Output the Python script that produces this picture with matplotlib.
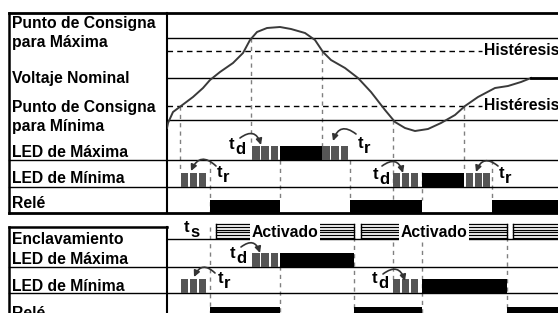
import matplotlib
matplotlib.use("Agg")
import matplotlib.pyplot as plt
from matplotlib.patches import FancyArrowPatch

plt.rcParams['font.family'] = ['Liberation Sans', 'DejaVu Sans']

# voltage curve: time (panel units) and volts
curve_t = [0, 1, 6, 14, 26, 36, 43, 53, 66, 76, 83, 90, 100, 113, 124, 138, 148,
           156, 164, 178, 191, 204, 218, 228, 238, 248, 261, 274, 288, 298, 311,
           328, 341, 354, 364, 391]
curve_v = [205, 207.5, 213, 216, 220.5, 225, 229, 233, 237.5, 242.5, 249, 253,
           255, 255.5, 254.5, 252.5, 249, 243, 239, 235, 230, 223, 214, 208, 205,
           203.5, 204.5, 207.5, 211.5, 216, 220.5, 225, 226, 228, 230, 230]

setpoint_max = 250
hyst_max = 243.5
nominal = 230
hyst_min = 216
setpoint_min = 209

# normal mode
led_max_blink = [(85, 113), (155, 183)]
led_max_on = [(113, 155)]
led_min_blink = [(14, 41), (226, 253), (299, 325)]
led_min_on = [(255, 297)]
rele_on = [(43, 113), (183, 255), (325, 400)]

# latch mode
latch_active = [(49, 187), (194, 340), (346, 420)]
latch_max_blink = [(85, 113)]
latch_max_on = [(113, 187)]
latch_min_blink = [(14, 41), (226, 253)]
latch_min_on = [(255, 340)]
latch_rele_on = [(43, 113), (187, 255), (340, 400)]

left_labels = ["Punto de Consigna", "para Máxima", "Voltaje Nominal",
               "Punto de Consigna", "para Mínima", "LED de Máxima",
               "LED de Mínima", "Relé"]
latch_labels = ["Enclavamiento", "LED de Máxima", "LED de Mínima", "Relé"]

FS = 11.3
fig = plt.figure(figsize=(5.58, 3.13), dpi=100)
ax = fig.add_axes([0, 0, 1, 1])
ax.set_xlim(-167, 391)
ax.set_ylim(313, 0)
ax.axis('off')

# frame lines
L, R = -158, 391
ax.plot([L, R], [13, 13], color='k', lw=2)
ax.plot([L, R], [213, 213], color='k', lw=2)
ax.plot([L, L], [13, 213], color='k', lw=1.8)
ax.plot([0, 0], [13, 213], color='k', lw=1.5)
for y in [160, 187]:
    ax.plot([L, R], [y, y], color='k', lw=1)
ax.plot([L, 0], [227, 227], color='k', lw=1.8)
ax.plot([L, L], [227, 320], color='k', lw=1.8)
ax.plot([0, 0], [227, 320], color='k', lw=1.5)
ax.plot([0, R], [239, 239], color='k', lw=1)
for y in [266.5, 293]:
    ax.plot([L, R], [y, y], color='k', lw=1)

# labels
for txt, yb in zip(left_labels, [28, 47, 83, 112, 131, 157, 183, 208]):
    ax.text(-155, yb, txt, fontsize=FS, fontweight='bold', va='baseline')
for txt, yb in zip(latch_labels, [244, 264, 291, 318]):
    ax.text(-155, yb, txt, fontsize=FS, fontweight='bold', va='baseline')

# vertical event lines
dash = dict(color='#808080', lw=1, linestyle=(0, (3, 3)), zorder=1)
for t, y0, y1 in [(13, 106, 172), (43, 160, 213), (84, 38, 146), (113, 160, 200),
                  (155, 51, 146), (183, 160, 200), (226, 120, 213), (255, 172, 200),
                  (297, 106, 172), (325, 160, 200),
                  (43, 227, 313), (113, 266, 313), (187, 237, 313),
                  (226, 242, 280), (255, 242, 313), (340, 237, 313)]:
    ax.plot([t, t], [y0, y1], **dash)


def blink(segs, ybot, h=14):
    for a, b in segs:
        w = b - a
        ax.broken_barh([(a + k * w / 3, w * 0.27) for k in range(3)], (ybot - h, h),
                       facecolors='#555555', zorder=3)


def solid(segs, ybot, h=14):
    ax.broken_barh([(a, b - a) for a, b in segs], (ybot - h, h),
                   facecolors='black', zorder=3)


blink(led_max_blink, 160)
solid(led_max_on, 160)
blink(led_min_blink, 187)
solid(led_min_on, 187)
solid(rele_on, 213, 13)

blink(latch_max_blink, 266.5)
solid(latch_max_on, 266.5)
blink(latch_min_blink, 293)
solid(latch_min_on, 293)
solid(latch_rele_on, 320, 13)

# latch "Activado" blocks
for a, b in latch_active:
    for k in range(6):
        yy = 224 + k * 14 / 5
        ax.plot([a, b], [yy, yy], color='k', lw=0.9, zorder=2)
    ax.plot([a, a], [224, 238], color='k', lw=1, zorder=2)
    ax.plot([b, b], [224, 238], color='k', lw=1, zorder=2)
    if b < 391:
        ax.text((a + b) / 2, 237, "Activado", fontsize=FS, fontweight='bold',
                ha='center', va='baseline', zorder=4,
                bbox=dict(facecolor='white', edgecolor='none', pad=1.5))


def tsub(x, yb, sub):
    ax.text(x, yb, 't', fontsize=12, fontweight='bold', va='baseline')
    ax.text(x + 6, yb + 5, sub, fontsize=12, fontweight='bold', va='baseline')


def arrow(p0, p1, rad):
    ax.add_patch(FancyArrowPatch(p0, p1, connectionstyle=f"arc3,rad={rad}",
                                 arrowstyle='-|>', mutation_scale=9,
                                 color='#333333', lw=1.2, zorder=5,
                                 shrinkA=0, shrinkB=0))


tsub(62, 149, 'd'); arrow((73, 138), (94, 145), -0.7)
tsub(191, 148, 'r'); arrow((189, 134), (166, 141), 0.7)
tsub(50, 177, 'r'); arrow((49, 166), (24, 171), 0.7)
tsub(206, 179, 'd'); arrow((215, 166), (236, 173), -0.7)
tsub(332, 178, 'r'); arrow((331, 166), (309, 172), 0.7)
tsub(63, 258, 'd'); arrow((74, 247), (93, 253), -0.7)
tsub(51, 283, 'r'); arrow((48, 273), (27, 277), 0.7)
tsub(205, 283, 'd'); arrow((216, 274), (238, 281), -0.7)
tsub(17, 232, 's')

# voltage panel
axv = fig.add_axes([167 / 558, 1 - 160 / 313, 391 / 558, 147 / 313])
axv.set_xlim(0, 391)
axv.set_ylim(189, 262.5)
axv.axis('off')
axv.patch.set_alpha(0)
for lv in [setpoint_max, nominal, setpoint_min]:
    axv.axhline(lv, color='k', lw=1)
for lv in [hyst_max, hyst_min]:
    axv.axhline(lv, xmax=315 / 391, color='k', lw=1, linestyle=(0, (4, 3)))
    axv.text(317, lv, "Histéresis", fontsize=FS, fontweight='bold', va='center')
axv.plot(curve_t[:-1], curve_v[:-1], color='#3a3a3a', lw=1.4)
axv.plot(curve_t[-2:], curve_v[-2:], color='k', lw=2)

fig.savefig("out.png", dpi=100)
